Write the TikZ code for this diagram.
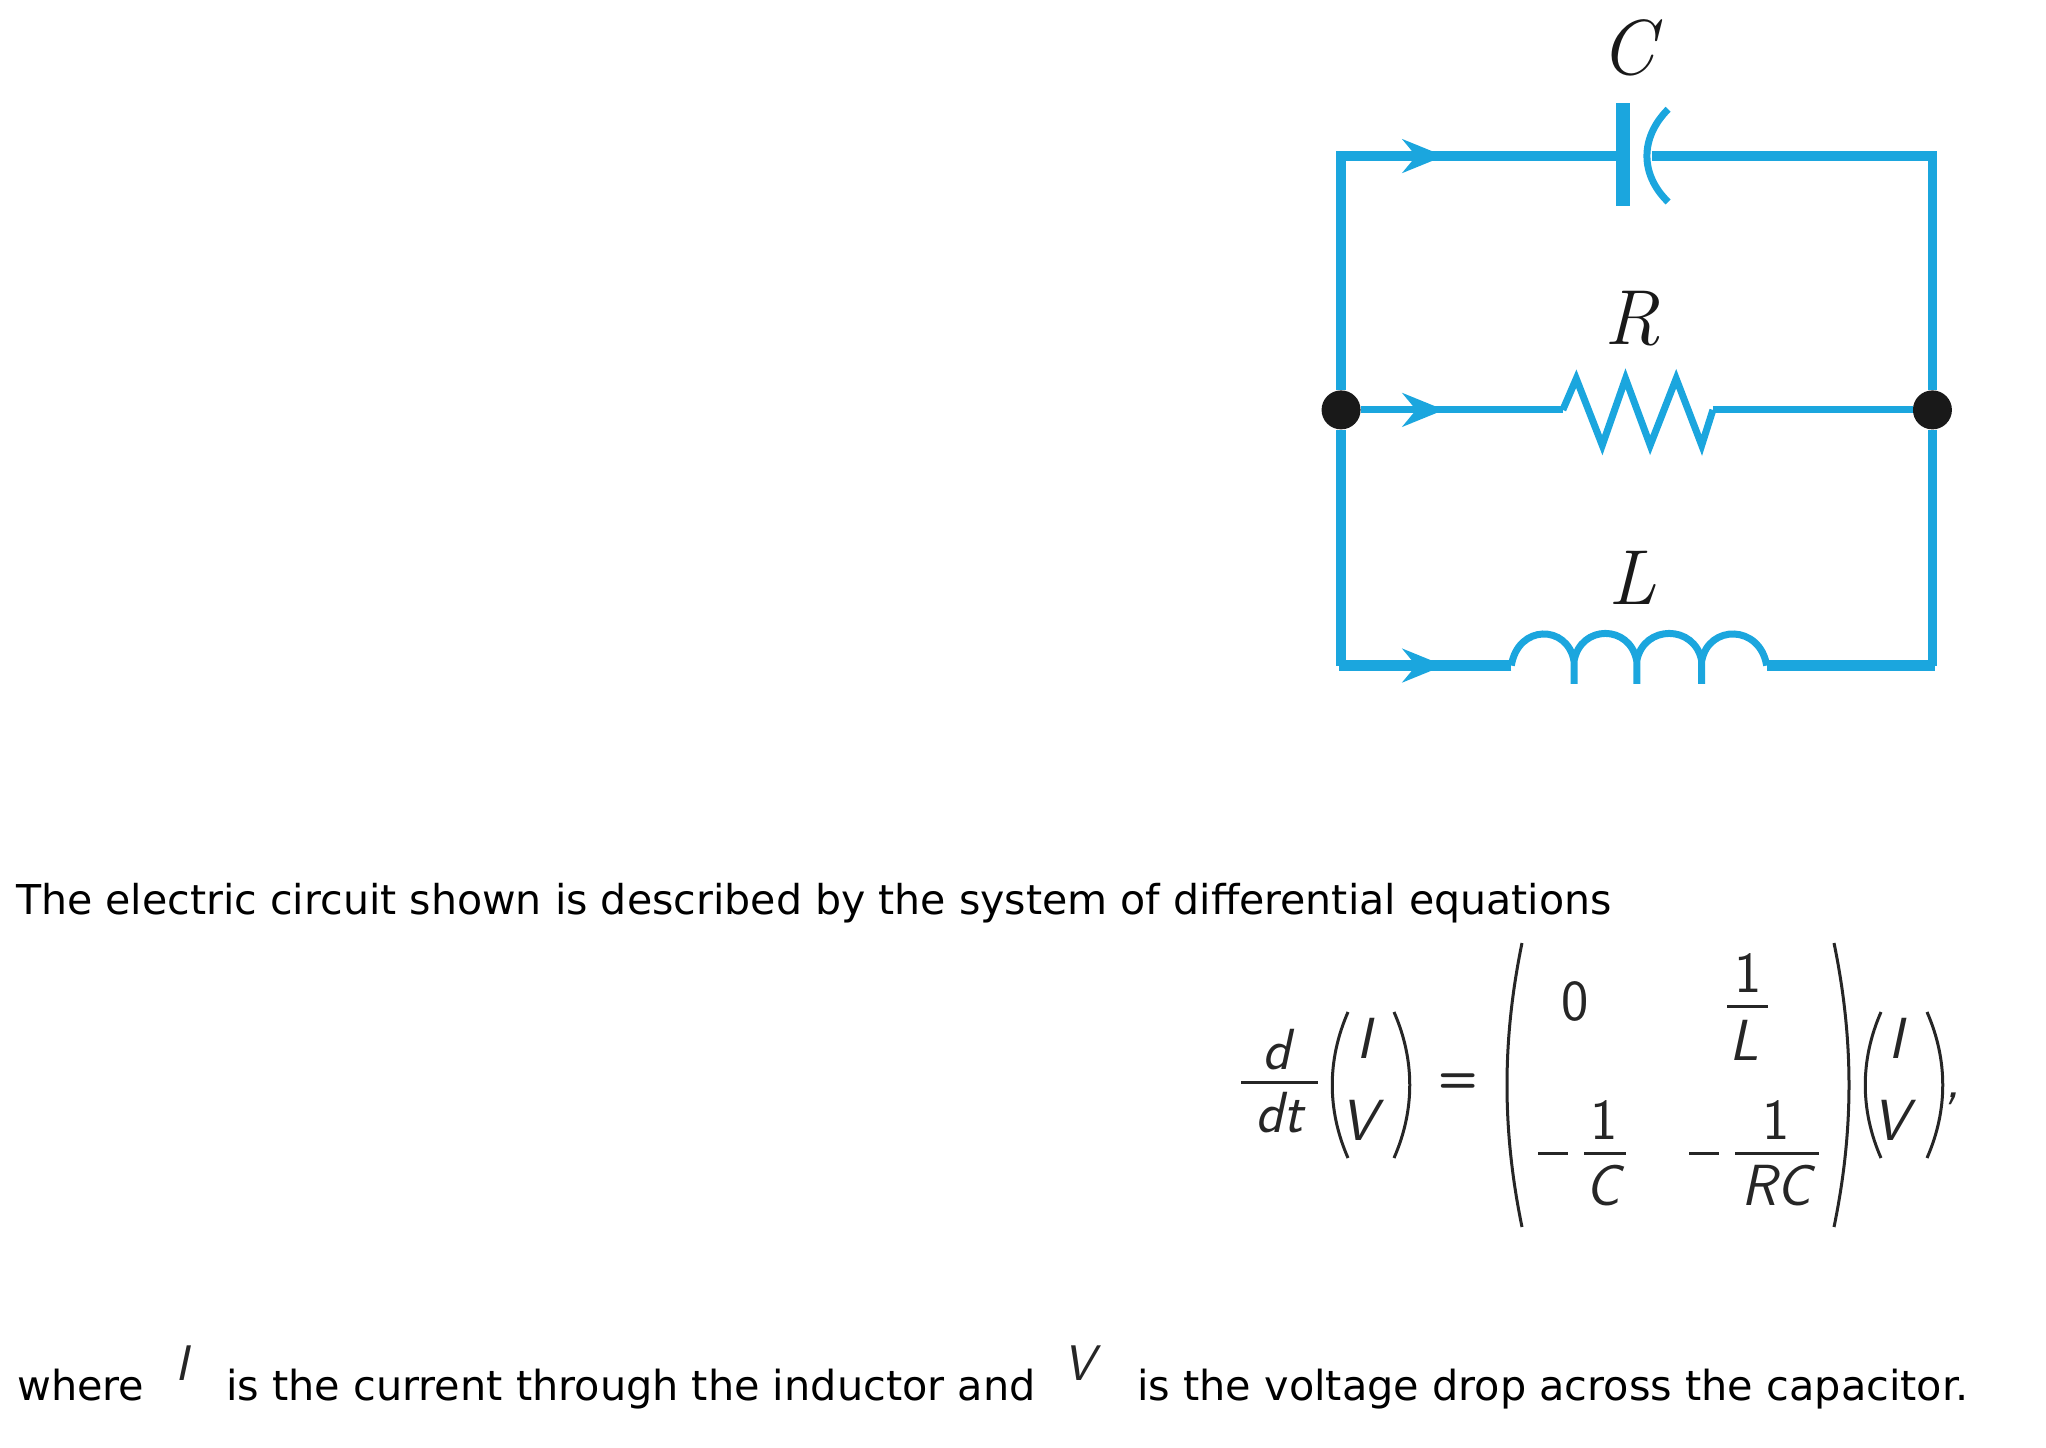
\documentclass[tikz,border=0pt]{standalone}
\usepackage{fontspec}
\usepackage{tikz}
\usetikzlibrary{arrows.meta}
\newfontfamily\bodyfont{DejaVu Sans}
\definecolor{wirecol}{HTML}{1BA6DE}
\tikzset{
  wire/.style={draw=wirecol,line width=9.5pt},
  thinwire/.style={draw=wirecol,line width=7pt},
  headwire/.style={draw=wirecol,line width=4pt,-{Stealth[length=42pt,width=34pt,inset=14pt]}},
  junction/.style={circle,fill=black!90,inner sep=0pt,minimum size=39pt},
  partname/.style={inner sep=0pt,font=\fontsize{78}{80}\selectfont\itshape,text=black!90},
  bodytext/.style={inner sep=0pt,anchor=base west,font=\bodyfont\fontsize{41.4}{46}\selectfont},
  eqsym/.style={inner sep=0pt,font=\sffamily\itshape\fontsize{58}{60}\selectfont,text=black!85},
  eqnum/.style={inner sep=0pt,font=\sffamily\fontsize{58}{60}\selectfont,text=black!85},
  eqsmall/.style={eqsym,font=\sffamily\itshape\fontsize{50}{54}\selectfont},
  eqline/.style={draw=black!85,line width=3pt},
}
\begin{document}
\begin{tikzpicture}[x=1pt,y=-1pt]
    \useasboundingbox (0,0) rectangle (2046,1448);
    \begin{scope}[shift={(1298.5,0)},x=.448pt,y=-.459pt]
    \coordinate (tl) at (95, 340);
    \coordinate (tr) at (1415, 340);
    \coordinate (bl) at (95, 1450);
    \coordinate (br) at (1415, 1450);
    \coordinate (ta) at (325, 340);
    \coordinate (ma) at (325, 893);
    \coordinate (ba) at (325, 1450);
    \coordinate (capl) at (725, 340);
    \coordinate (capr) at (790, 340);
    \coordinate (resl) at (590, 893);
    \coordinate (resr) at (925, 893);
    \coordinate (indl) at (475, 1450);
    \coordinate (indr) at (1045, 1450);
    \node[junction] (jl) at (95, 893) {};
    \node[junction] (jr) at (1415, 893) {};
    \node[partname] (c) at (735, 105) {C};
    \node[partname] (r) at (745, 695) {R};
    \node[partname] (l) at (745, 1260) {L};
    % the outer loop
    \draw[wire] (capl) -- (tl) -- (jl);
    \draw[wire] (capr) -- (tr) -- (jr);
    \draw[wire] (jl) -- (bl);
    \draw[wire] (jr) -- (br);
    \draw[wire,line width=11pt] (indl) -- (bl) -- ++(-5, 0);
    \draw[wire,line width=11pt] (indr) -- (br) -- ++(5, 0);
    \draw[thinwire] (jl) -- (resl);
    \draw[thinwire] (resr) -- (jr);
    \draw[headwire] (tl) -- (ta);
    \draw[headwire] (jl) -- (ma);
    \draw[headwire] (bl) -- (ba);
    % capacitor
    \draw[draw=wirecol,line width=14pt] (725, 225) -- (725, 448);
    \draw[thinwire] (825, 238) .. controls (762, 300) and (762, 380) .. (825, 440);
    % resistor
    \draw[thinwire] (resl) -- (620, 825) -- (678, 970) -- (730, 825) -- (785, 970) -- (843, 825) -- (900, 970) -- (resr);
    % inductor
    \draw[thinwire] (indl) .. controls (490, 1360) and (600, 1360) .. (615, 1440);
    \draw[thinwire] (615, 1490) -- (615, 1440) .. controls (630, 1360) and (740, 1360) .. (755, 1440);
    \draw[thinwire] (755, 1490) -- (755, 1440) .. controls (770, 1360) and (885, 1360) .. (900, 1440);
    \draw[thinwire] (900, 1490) -- (900, 1440) .. controls (915, 1360) and (1030, 1360) .. (indr);
    \end{scope}
    \node[bodytext,font=\bodyfont\fontsize{41.1}{46}\selectfont] (intro) at (16, 914) {The electric circuit shown is described by the system of differential equations};
    % left side of the equation
    \node[eqsym] (d) at (1277, 1050) {d};
    \node[eqsym] (dt) at (1279, 1113) {dt};
    \draw[eqline] (1241, 1082) -- (1318, 1082);
    \draw[eqline] (1348, 1012) .. controls (1327, 1060) and (1327, 1110) .. (1348, 1158);
    \draw[eqline] (1394, 1012) .. controls (1415, 1060) and (1415, 1110) .. (1394, 1158);
    \node[eqsym] (i) at (1364, 1038) {I};
    \node[eqsym] (v) at (1359, 1120) {V};
    \node[eqnum,font=\sffamily\bfseries\fontsize{46}{50}\selectfont] (eq) at (1458, 1083) {=};
    % the matrix
    \draw[eqline] (1522, 943) .. controls (1502, 1040) and (1502, 1130) .. (1522, 1227);
    \draw[eqline] (1834, 943) .. controls (1854, 1040) and (1854, 1130) .. (1834, 1227);
    \node[eqnum] (zero) at (1575, 1001) {0};
    \node[eqnum] (oa) at (1748, 973) {1};
    \draw[eqline] (1727, 1006) -- (1768, 1006);
    \node[eqsym] (ll) at (1744, 1040) {L};
    \draw[eqline] (1538, 1153) -- (1568, 1153);
    \draw[eqline] (1584, 1153) -- (1626, 1153);
    \node[eqnum] (ob) at (1604, 1120) {1};
    \node[eqsym] (cc) at (1603, 1186) {C};
    \draw[eqline] (1689, 1153) -- (1719, 1153);
    \draw[eqline] (1735, 1153) -- (1819, 1153);
    \node[eqnum] (oc) at (1776, 1120) {1};
    \node[eqsym] (rc) at (1776, 1186) {RC};
    % right factor
    \draw[eqline] (1881, 1012) .. controls (1860, 1060) and (1860, 1110) .. (1881, 1158);
    \draw[eqline] (1927, 1012) .. controls (1948, 1060) and (1948, 1110) .. (1927, 1158);
    \node[eqsym] (ib) at (1896, 1038) {I};
    \node[eqsym] (vb) at (1891, 1120) {V};
    \node[eqsym] (comma) at (1953, 1099) {,};
    % last line
    \node[bodytext] (wa) at (17, 1400) {where};
    \node[eqsmall] (inl) at (182, 1363) {I};
    \node[bodytext] (wb) at (226, 1400) {is the current through the inductor and};
    \node[eqsmall] (vnl) at (1079, 1363) {V};
    \node[bodytext] (wc) at (1137, 1400) {is the voltage drop across the capacitor.};
\end{tikzpicture}
\end{document}
